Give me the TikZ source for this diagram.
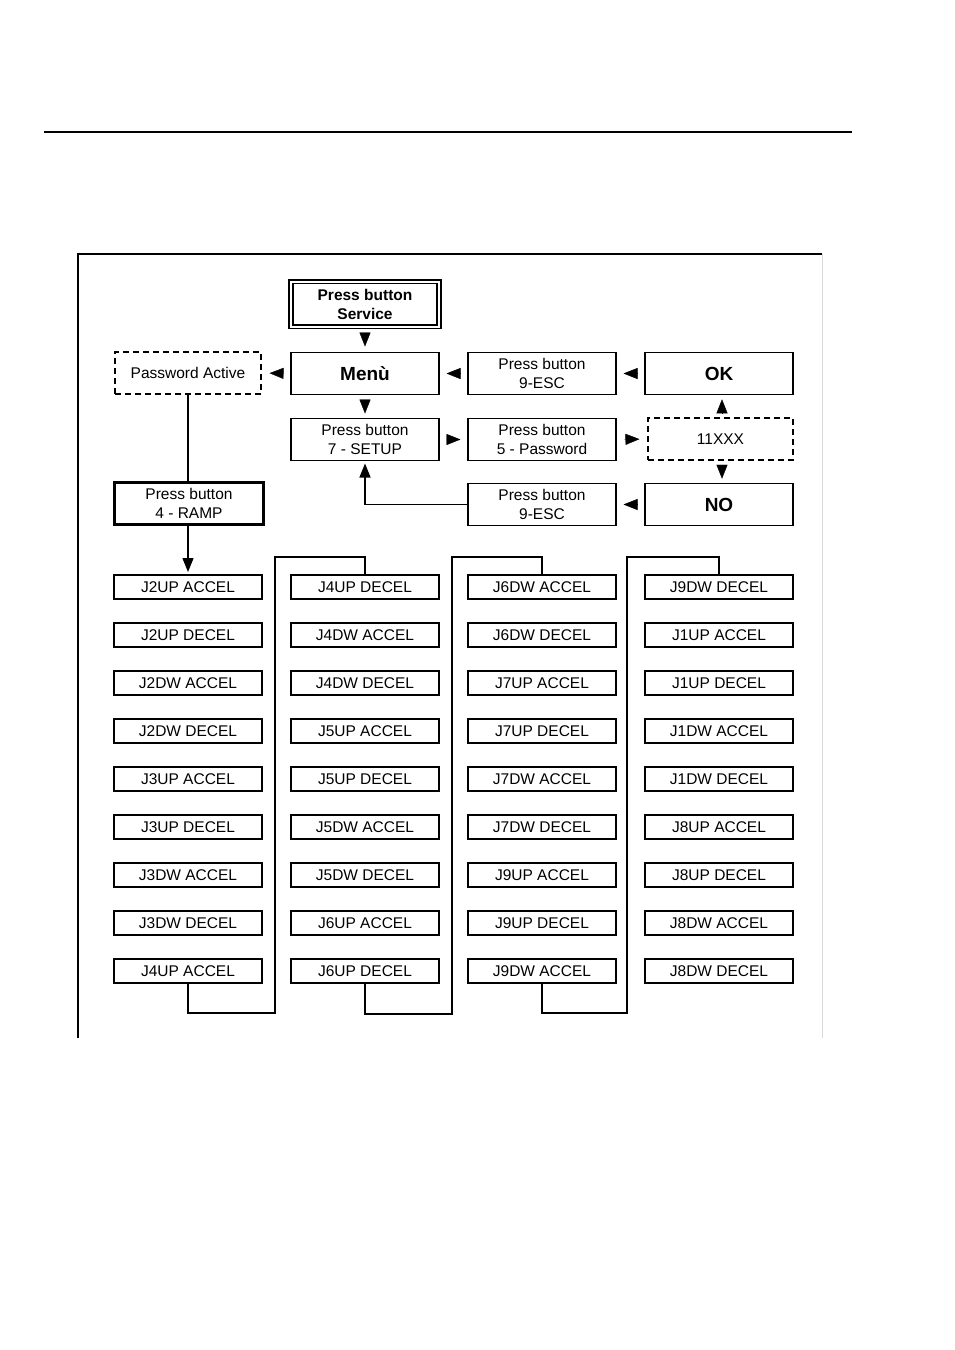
\documentclass[tikz,border=0pt]{standalone}
\usepackage{fontspec}
\setmainfont{Liberation Sans}
\usetikzlibrary{arrows.meta}
\begin{document}
\begin{tikzpicture}[x=1pt,y=-1pt,
  base/.style={draw, line width=1.6pt, outer sep=0pt, inner sep=0pt, align=center,
    font=\fontsize{15.5}{19}\selectfont},
  box/.style={base, minimum width=148pt, minimum height=42pt},
  dbox/.style={box, dash pattern=on 6pt off 4pt, line width=1.4pt},
  bigbold/.style={font=\fontsize{19}{22}\selectfont\bfseries},
  gbox/.style={base, minimum width=148pt, minimum height=24pt, font=\fontsize{15.5}{18}\selectfont},
  conn/.style={line width=1.4pt},
  gap/.style={-{Triangle[length=14pt,width=11pt]}, shorten >=#1, shorten <=#1},
  tip/.style={-{Triangle[length=14pt,width=11pt]}}
]
\useasboundingbox (0,0) rectangle (954,1350);
\fill[white] (0,0) rectangle (954,1350);

% header rule and frame
\draw[line width=1.2pt] (44,132) -- (852,132);
\draw[line width=1.6pt] (78,1038) -- (78,254) -- (822,254);
\draw[black!15, line width=1pt] (822,254) -- (822,1038);

% top section
\node[base, minimum width=148pt, minimum height=45pt, double, double distance=2pt, line width=1.6pt,
  font=\fontsize{15.5}{19}\selectfont\bfseries] (service) at (365,304) {Press button\\Service};
\node[box, bigbold] (menu) at (365,373.5) {Menù};
\node[dbox, minimum width=146pt] (pwd) at (188,373) {Password Active};
\node[box] (esc1) at (542,373.5) {Press button\\9-ESC};
\node[box, bigbold] (ok) at (719,373.5) {OK};
\node[box] (setup) at (365,439.5) {Press button\\7 - SETUP};
\node[box] (pass) at (542,439.5) {Press button\\5 - Password};
\node[dbox, minimum width=145pt] (code) at (720.5,439) {11XXX};
\node[box, minimum width=149pt, line width=2.6pt] (ramp) at (189,503.5) {Press button\\4 - RAMP};
\node[box] (esc2) at (542,504.5) {Press button\\9-ESC};
\node[box, bigbold] (no) at (719,504.5) {NO};

% gap arrows
\draw[gap=6] (service.south) -- (menu.north);
\draw[gap=8.5] (menu.west) -- (pwd.east);
\draw[gap=7.5] (esc1.west) -- (menu.east);
\draw[gap=7.5] (ok.west) -- (esc1.east);
\draw[gap=5] (menu.south) -- (setup.north);
\draw[gap=7.5] (setup.east) -- (pass.west);
\draw[gap=8.5] (pass.east) -- (code.west);
\draw[gap=4.75] (code.north -| 722,0) -- (ok.south -| 722,0);
\draw[gap=4.75] (code.south -| 722,0) -- (no.north -| 722,0);
\draw[gap=7.5] (no.west) -- (esc2.east);

% grid
\foreach \c/\x in {1/188,2/365,3/542,4/719}{
  \foreach \r in {1,...,9}{
    \coordinate (p\c\r) at (\x,{587+48*(\r-1)});
  }
}
\node[gbox] (c11) at (p11) {J2UP ACCEL};
\node[gbox] (c12) at (p12) {J2UP DECEL};
\node[gbox] (c13) at (p13) {J2DW ACCEL};
\node[gbox] (c14) at (p14) {J2DW DECEL};
\node[gbox] (c15) at (p15) {J3UP ACCEL};
\node[gbox] (c16) at (p16) {J3UP DECEL};
\node[gbox] (c17) at (p17) {J3DW ACCEL};
\node[gbox] (c18) at (p18) {J3DW DECEL};
\node[gbox] (c19) at (p19) {J4UP ACCEL};

\node[gbox] (c21) at (p21) {J4UP DECEL};
\node[gbox] (c22) at (p22) {J4DW ACCEL};
\node[gbox] (c23) at (p23) {J4DW DECEL};
\node[gbox] (c24) at (p24) {J5UP ACCEL};
\node[gbox] (c25) at (p25) {J5UP DECEL};
\node[gbox] (c26) at (p26) {J5DW ACCEL};
\node[gbox] (c27) at (p27) {J5DW DECEL};
\node[gbox] (c28) at (p28) {J6UP ACCEL};
\node[gbox] (c29) at (p29) {J6UP DECEL};

\node[gbox] (c31) at (p31) {J6DW ACCEL};
\node[gbox] (c32) at (p32) {J6DW DECEL};
\node[gbox] (c33) at (p33) {J7UP ACCEL};
\node[gbox] (c34) at (p34) {J7UP DECEL};
\node[gbox] (c35) at (p35) {J7DW ACCEL};
\node[gbox] (c36) at (p36) {J7DW DECEL};
\node[gbox] (c37) at (p37) {J9UP ACCEL};
\node[gbox] (c38) at (p38) {J9UP DECEL};
\node[gbox] (c39) at (p39) {J9DW ACCEL};

\node[gbox] (c41) at (p41) {J9DW DECEL};
\node[gbox] (c42) at (p42) {J1UP ACCEL};
\node[gbox] (c43) at (p43) {J1UP DECEL};
\node[gbox] (c44) at (p44) {J1DW ACCEL};
\node[gbox] (c45) at (p45) {J1DW DECEL};
\node[gbox] (c46) at (p46) {J8UP ACCEL};
\node[gbox] (c47) at (p47) {J8UP DECEL};
\node[gbox] (c48) at (p48) {J8DW ACCEL};
\node[gbox] (c49) at (p49) {J8DW DECEL};

% connectors
\draw[conn] (pwd.south) -- (pwd.south |- ramp.north);
\draw[conn, tip, shorten >=3pt] (pwd.south |- ramp.south) -- (pwd.south |- c11.north);
\draw[conn, tip, shorten >=3pt] (esc2.west) -| (setup.south);

\draw[conn] (c19.south) -- (c19.south |- 0,1013) -- (275,1013) -- (275,557) -- (c21.north |- 0,557) -- (c21.north);
\draw[conn] (c29.south) -- (c29.south |- 0,1014) -- (452,1014) -- (452,557) -- (c31.north |- 0,557) -- (c31.north);
\draw[conn] (c39.south) -- (c39.south |- 0,1013) -- (627,1013) -- (627,557) -- (c41.north |- 0,557) -- (c41.north);
\end{tikzpicture}
\end{document}
